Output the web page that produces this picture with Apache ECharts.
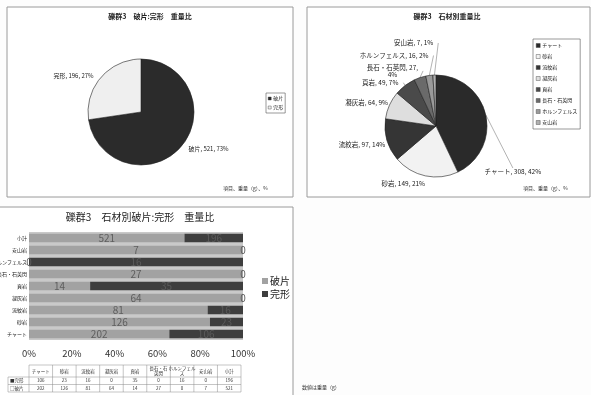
<!DOCTYPE html>
<html>
<head>
<meta charset="utf-8">
<script src="https://cdn.jsdelivr.net/npm/echarts@6/dist/echarts.min.js"></script>
<style>
  html, body { margin: 0; padding: 0; background: #fdfdfd; }
  #main { width: 591px; height: 395px; }
</style>
</head>
<body>
<div id="main"></div>
<script>
// chart 1: broken vs complete
var pieNames = ['破片', '完形']
var pieWeights = [521, 196]

// chart 2: weight by stone type (percent labels as printed)
var stones = ['チャート', '砂岩', '流紋岩', '凝灰岩', '頁岩', '長石・石英閃', 'ホルンフェルス', '安山岩']
var stoneWeights = [308, 149, 97, 64, 49, 27, 16, 7]
var stonePctLabels = [42, 21, 14, 9, 7, 4, 2, 1]

// chart 3: broken / complete by stone type
var barCats = ['チャート', '砂岩', '流紋岩', '凝灰岩', '頁岩', '長石・石英閃', 'ホルンフェルス', '安山岩', '小計']
var brokenWeights = [202, 126, 81, 64, 14, 27, 0, 7, 521]
var completeWeights = [106, 23, 16, 0, 35, 0, 16, 0, 196]
var tableHeads = ['チャート', '砂岩', '流紋岩', '凝灰岩', '頁岩', '長石・石\n英閃', 'ホルンフェル\nス', '安山岩', '小計']

var FONT = '"Noto Sans CJK JP", sans-serif'
var pieColors = ['#2b2b2b', '#efefef']
var stoneColors = ['#2a2a2a', '#f2f2f2', '#353535', '#dedede', '#4a4a4a', '#6a6a6a', '#9a9a9a', '#b0b0b0']
var brokenColor = '#a2a2a2'
var completeColor = '#3e3e3e'

// label nudges for the stone pie, like the hand placed labels of the original
var stoneLabelShift = [[-15, 58], [9, 2], [12, 3], [12, 0], [5, 2], [8, -1], [8, -14], [7, -26]]
var stoneLabelWrap = [false, false, false, false, false, true, false, false]
var stoneLeader = [true, false, false, false, true, true, true, true]

function pct (a, b) {
  var t = a + b
  return t ? a / t * 100 : 0
}
var brokenPct = brokenWeights.map(function (v, i) { return pct(v, completeWeights[i]) })
var completePct = completeWeights.map(function (v, i) { return pct(v, brokenWeights[i]) })

function pieLabel (p) {
  return p.name + ', ' + p.value + ', ' + Math.round(p.percent) + '%'
}
function stoneLabel (p) {
  var sep = stoneLabelWrap[p.dataIndex] ? ',\n' : ', '
  return p.name + ', ' + p.value + sep + stonePctLabels[p.dataIndex] + '%'
}

// data table under chart 3
var tblLeft = 29
var tblRight = 241
var tblTop = 365
var colW = (tblRight - tblLeft) / tableHeads.length
var rowYs = [tblTop, 377, 384.5, 392]
var lineStyle = { stroke: '#8a8a8a', lineWidth: 0.5 }
var tableGraphics = []
tableHeads.forEach(function (h, i) {
  var cx = tblLeft + colW * (i + 0.5)
  tableGraphics.push({ type: 'text', x: cx, y: (rowYs[0] + rowYs[1]) / 2, style: { text: h, fontSize: 4.5, fontFamily: FONT, fill: '#333', align: 'center', verticalAlign: 'middle', lineHeight: 5 } })
  tableGraphics.push({ type: 'text', x: cx, y: (rowYs[1] + rowYs[2]) / 2, style: { text: String(completeWeights[i]), fontSize: 4.5, fontFamily: FONT, fill: '#333', align: 'center', verticalAlign: 'middle' } })
  tableGraphics.push({ type: 'text', x: cx, y: (rowYs[2] + rowYs[3]) / 2, style: { text: String(brokenWeights[i]), fontSize: 4.5, fontFamily: FONT, fill: '#333', align: 'center', verticalAlign: 'middle' } })
})
for (var c = 0; c <= tableHeads.length; c++) {
  var lx = tblLeft + colW * c
  tableGraphics.push({ type: 'line', shape: { x1: lx, y1: rowYs[0], x2: lx, y2: rowYs[3] }, style: lineStyle })
}
tableGraphics.push({ type: 'line', shape: { x1: tblLeft, y1: rowYs[0], x2: tblRight, y2: rowYs[0] }, style: lineStyle })
for (var r = 1; r < rowYs.length; r++) {
  tableGraphics.push({ type: 'line', shape: { x1: 8, y1: rowYs[r], x2: tblRight, y2: rowYs[r] }, style: lineStyle })
}
tableGraphics.push({ type: 'line', shape: { x1: 8, y1: rowYs[1], x2: 8, y2: rowYs[3] }, style: lineStyle })
tableGraphics.push({ type: 'text', x: 10, y: (rowYs[1] + rowYs[2]) / 2, style: { text: '■完形', fontSize: 4.5, fontFamily: FONT, fill: '#333', verticalAlign: 'middle' } })
tableGraphics.push({ type: 'text', x: 10, y: (rowYs[2] + rowYs[3]) / 2, style: { text: '□破片', fontSize: 4.5, fontFamily: FONT, fill: '#333', verticalAlign: 'middle' } })

var frames = [
  { type: 'rect', shape: { x: 7, y: 7, width: 286, height: 190 }, style: { fill: '#fff', stroke: '#9a9a9a', lineWidth: 1 }, z: -10 },
  { type: 'rect', shape: { x: 307, y: 7, width: 283, height: 190 }, style: { fill: '#fff', stroke: '#9a9a9a', lineWidth: 1 }, z: -10 },
  { type: 'rect', shape: { x: -1, y: 207, width: 294, height: 200 }, style: { fill: '#fff', stroke: '#9a9a9a', lineWidth: 1 }, z: -10 },
  { type: 'text', x: 223, y: 186, style: { text: '項目、重量（g）、%', fontSize: 5, fontFamily: FONT, fill: '#333' } },
  { type: 'text', x: 523, y: 186, style: { text: '項目、重量（g）、%', fontSize: 5, fontFamily: FONT, fill: '#333' } },
  { type: 'text', x: 302, y: 385, style: { text: '数値は重量（g）', fontSize: 5, fontFamily: FONT, fill: '#333' } }
]

var chart = echarts.init(document.getElementById('main'))
chart.setOption({
  animation: false,
  backgroundColor: '#fdfdfd',
  textStyle: { fontFamily: FONT },
  title: [
    { text: '礫群3　破片:完形　重量比', left: 150, top: 13, textAlign: 'center', padding: 0, textStyle: { fontSize: 7, fontWeight: 'bold', color: '#222' } },
    { text: '礫群3　石材別重量比', left: 447, top: 13, textAlign: 'center', padding: 0, textStyle: { fontSize: 7, fontWeight: 'bold', color: '#222' } },
    { text: '礫群3　石材別破片:完形　重量比', left: 140, top: 212, textAlign: 'center', padding: 0, textStyle: { fontSize: 10, fontWeight: 'normal', color: '#222' } }
  ],
  legend: [
    {
      orient: 'vertical', left: 266, top: 93, padding: [3, 2, 3, 2], itemGap: 4,
      itemWidth: 3, itemHeight: 3, icon: 'rect', borderColor: '#555', borderWidth: 0.6,
      textStyle: { fontSize: 5, color: '#222', padding: [0, 0, 0, -3] },
      data: pieNames.map(function (n, i) {
        return { name: n, itemStyle: { color: pieColors[i], borderColor: '#333', borderWidth: 0.4 } }
      })
    },
    {
      orient: 'vertical', left: 533, top: 39, padding: [4, 3, 4, 3], itemGap: 6,
      itemWidth: 4, itemHeight: 4, icon: 'rect', borderColor: '#555', borderWidth: 0.6,
      textStyle: { fontSize: 5, color: '#222', padding: [0, 0, 0, -3] },
      data: stones.map(function (n, i) {
        return { name: n, itemStyle: { color: stoneColors[i], borderColor: '#333', borderWidth: 0.4 } }
      })
    },
    {
      orient: 'vertical', left: 262, top: 276, padding: 0, itemGap: 3,
      itemWidth: 6, itemHeight: 6, icon: 'rect',
      textStyle: { fontSize: 10, color: '#222', padding: [0, 0, 0, -3] },
      data: [
        { name: '破片', itemStyle: { color: brokenColor } },
        { name: '完形', itemStyle: { color: completeColor } }
      ]
    }
  ],
  grid: {
    left: 29, right: 348, top: 232, bottom: 55,
    outerBoundsMode: 'none', containLabel: false,
    show: true, backgroundColor: '#c9c9c9', borderWidth: 0
  },
  xAxis: {
    type: 'value', min: 0, max: 100, interval: 20,
    axisLine: { show: false }, axisTick: { show: false }, splitLine: { show: false },
    axisLabel: { formatter: '{value}%', fontSize: 9.5, color: '#333', margin: 9 }
  },
  yAxis: {
    type: 'category', data: barCats,
    axisLine: { show: false }, axisTick: { show: false },
    axisLabel: { fontSize: 5, color: '#222', margin: 2 }
  },
  series: [
    {
      type: 'pie',
      center: [141, 112],
      radius: 53,
      startAngle: 90,
      clockwise: true,
      avoidLabelOverlap: false,
      itemStyle: { borderColor: '#222', borderWidth: 0.6 },
      label: { formatter: pieLabel, fontSize: 6, color: '#222' },
      labelLine: { show: false, length: 3, length2: 0 },
      emphasis: { disabled: true },
      data: pieNames.map(function (n, i) {
        return { name: n, value: pieWeights[i], itemStyle: { color: pieColors[i] } }
      })
    },
    {
      type: 'pie',
      center: [436, 126],
      radius: 51,
      startAngle: 90,
      clockwise: true,
      avoidLabelOverlap: false,
      itemStyle: { borderColor: '#222', borderWidth: 0.6 },
      label: { formatter: stoneLabel, fontSize: 6.5, color: '#222', lineHeight: 7 },
      labelLine: { show: true, length: 6, length2: 3, lineStyle: { color: '#666', width: 0.5 } },
      labelLayout: function (p) {
        var i = p.dataIndex
        var s = stoneLabelShift[i]
        var out = { dx: s[0], dy: s[1] }
        var pts = p.labelLinePoints
        if (pts) {
          var end = [pts[2][0] + s[0], pts[2][1] + s[1]]
          if (s[1] > 20) {
            // label pushed well below its slice: run the line to its top edge
            var rc = p.labelRect
            end = [rc.x + s[0] + rc.width / 2, rc.y + s[1]]
          }
          out.labelLinePoints = [pts[0], end, end]
        }
        if (stoneLabelWrap[i]) {
          out.align = 'center'
          out.dx = s[0] - p.labelRect.width / 2
        }
        return out
      },
      emphasis: { disabled: true },
      data: stones.map(function (n, i) {
        return { name: n, value: stoneWeights[i], itemStyle: { color: stoneColors[i] }, labelLine: { show: stoneLeader[i] } }
      })
    },
    {
      name: '破片',
      type: 'bar',
      stack: 'w',
      barCategoryGap: '30%',
      itemStyle: { color: brokenColor },
      label: {
        show: true, position: 'inside', fontSize: 10, color: '#5e5e5e',
        formatter: function (p) { return brokenWeights[p.dataIndex] }
      },
      emphasis: { disabled: true },
      data: brokenPct
    },
    {
      name: '完形',
      type: 'bar',
      stack: 'w',
      itemStyle: { color: completeColor },
      label: {
        show: true, position: 'inside', fontSize: 10, color: '#5a5a5a',
        formatter: function (p) { return completeWeights[p.dataIndex] }
      },
      emphasis: { disabled: true },
      data: completePct
    }
  ],
  graphic: frames.concat(tableGraphics)
})
</script>
</body>
</html>
